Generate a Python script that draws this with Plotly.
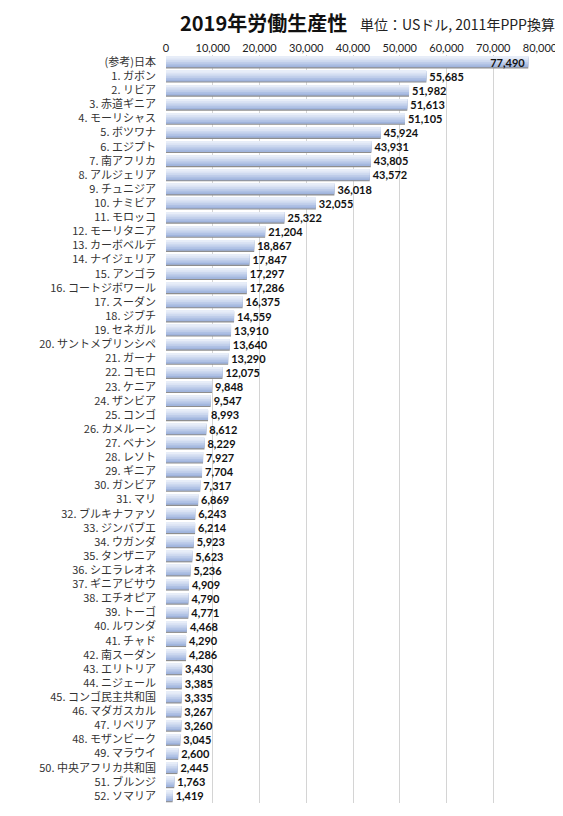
import plotly.graph_objects as go

countries = [
    "(参考)日本", "1. ガボン", "2. リビア", "3. 赤道ギニア", "4. モーリシャス",
    "5. ボツワナ", "6. エジプト", "7. 南アフリカ", "8. アルジェリア", "9. チュニジア",
    "10. ナミビア", "11. モロッコ", "12. モーリタニア", "13. カーボベルデ", "14. ナイジェリア",
    "15. アンゴラ", "16. コートジボワール", "17. スーダン", "18. ジブチ", "19. セネガル",
    "20. サントメプリンシペ", "21. ガーナ", "22. コモロ", "23. ケニア", "24. ザンビア",
    "25. コンゴ", "26. カメルーン", "27. ベナン", "28. レソト", "29. ギニア",
    "30. ガンビア", "31. マリ", "32. ブルキナファソ", "33. ジンバブエ", "34. ウガンダ",
    "35. タンザニア", "36. シエラレオネ", "37. ギニアビサウ", "38. エチオピア", "39. トーゴ",
    "40. ルワンダ", "41. チャド", "42. 南スーダン", "43. エリトリア", "44. ニジェール",
    "45. コンゴ民主共和国", "46. マダガスカル", "47. リベリア", "48. モザンビーク", "49. マラウイ",
    "50. 中央アフリカ共和国", "51. ブルンジ", "52. ソマリア",
]
productivity = [
    77490, 55685, 51982, 51613, 51105,
    45924, 43931, 43805, 43572, 36018,
    32055, 25322, 21204, 18867, 17847,
    17297, 17286, 16375, 14559, 13910,
    13640, 13290, 12075, 9848, 9547,
    8993, 8612, 8229, 7927, 7704,
    7317, 6869, 6243, 6214, 5923,
    5623, 5236, 4909, 4790, 4771,
    4468, 4290, 4286, 3430, 3385,
    3335, 3267, 3260, 3045, 2600,
    2445, 1763, 1419,
]
x_ticks = list(range(0, 80001, 10000))

bar_w = 0.74
fig = go.Figure()

# shadow under each bar
fig.add_trace(go.Bar(
    y=countries, x=productivity, orientation="h",
    width=bar_w, offset=-bar_w / 2 + 0.08,
    marker=dict(color="#8e8e8e", line_width=0),
    hoverinfo="skip", showlegend=False,
))

# fake vertical gradient: darker at the bottom, lighter towards the top
shades = ["#a0b4dd", "#afc1e4", "#bfcdea", "#cdd9ef", "#dbe3f4", "#e7edf8"]
for i, c in enumerate(shades):
    w = bar_w * (1 - i / len(shades))
    fig.add_trace(go.Bar(
        y=countries, x=productivity, orientation="h",
        width=w, offset=-bar_w / 2,
        marker=dict(color=c, line_width=0),
        hoverinfo="skip", showlegend=False,
    ))

# value labels
positions = ["inside"] + ["outside"] * (len(productivity) - 1)
fig.add_trace(go.Bar(
    y=countries, x=productivity, orientation="h",
    width=bar_w, offset=-bar_w / 2,
    marker=dict(color="rgba(0,0,0,0)", line_width=0),
    text=[f"{v:,}" for v in productivity],
    textposition=positions, insidetextanchor="end",
    textfont=dict(family="Lato", size=11, color="#111111", weight="bold"),
    constraintext="none", cliponaxis=False,
    showlegend=False,
))

# page body has an 8px margin, so the figure is a bit smaller than the window
fig.update_layout(
    width=555, height=808,
    margin=dict(l=158, r=23, t=47, b=13),
    paper_bgcolor="white", plot_bgcolor="white",
    barmode="overlay",
    font=dict(family="Noto Sans CJK JP", size=11, color="#333333"),
    xaxis=dict(
        side="top", range=[0, 80000], tickvals=x_ticks, tickformat=",",
        showgrid=True, gridcolor="#d4d4d4", gridwidth=1,
        zeroline=False, showline=False, ticks="", automargin=False,
        tickfont=dict(family="Lato", size=11, color="#222222"),
    ),
    yaxis=dict(
        autorange="reversed", showgrid=False, showline=False, ticks="",
        ticklabelstandoff=9, automargin=False,
        tickfont=dict(family="Noto Sans CJK JP", size=11, color="#333333"),
    ),
    annotations=[
        dict(text="<b>2019年労働生産性</b>", xref="paper", yref="paper",
             x=0.262, y=1.044, xanchor="center", yanchor="middle", showarrow=False,
             font=dict(family="Noto Sans CJK JP", size=20, color="#111111")),
        dict(text="単位：USドル, 2011年PPP換算", xref="paper", yref="paper",
             x=1.045, y=1.042, xanchor="right", yanchor="middle", showarrow=False,
             font=dict(family="Noto Sans CJK JP", size=14, color="#222222")),
    ],
)

fig.write_html("out.html")
